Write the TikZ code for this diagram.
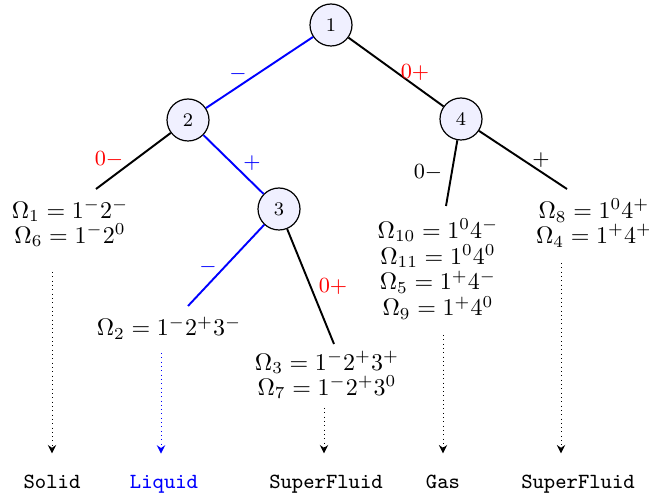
\documentclass[tikz,border=0pt]{standalone}
\usetikzlibrary{arrows.meta}
\begin{document}
\begin{tikzpicture}[x=0.4167pt,y=-0.4167pt,
  state/.style={circle,draw,line width=0.5pt,fill=blue!6,minimum size=17.5pt,inner sep=0pt,font=\footnotesize},
  edge/.style={line width=0.8pt},
  bedge/.style={line width=0.8pt,blue},
  lab/.style={font=\small,inner sep=1pt},
  omega/.style={align=center,inner sep=0pt},
  phase/.style={anchor=base,font=\small\ttfamily},
  darr/.style={dash pattern=on 0.4pt off 1.4pt,-{Stealth[length=3.5pt,width=3.5pt,inset=1.2pt]},shorten >=5.3pt}]
\useasboundingbox (0,0) rectangle (649,494);
% circle nodes
\node[state] (n1) at (331,25) {1};
\node[state] (n2) at (188,120) {2};
\node[state] (n3) at (279,209) {3};
\node[state] (n4) at (461,119) {4};
% leaf ends
\coordinate (e21) at (96,189);
\coordinate (e31) at (188,306);
\coordinate (e32) at (334,344);
\coordinate (e41) at (446,206);
\coordinate (e42) at (567,189);
% edges
\draw[bedge] (n1) -- (n2);
\draw[edge] (n1) -- (n4);
\draw[edge] (n2) -- (e21);
\draw[bedge] (n2) -- (n3);
\draw[bedge] (n3) -- (e31);
\draw[edge] (n3) -- (e32);
\draw[edge] (n4) -- (e41);
\draw[edge] (n4) -- (e42);
% edge labels
\node[lab,blue] (l12) at (238,74) {$-$};
\node[lab,red] (l14) at (415,73) {$0+$};
\node[lab,red] (l21) at (109,160) {$0-$};
\node[lab,blue] (l23) at (252,163) {$+$};
\node[lab,blue] (l31) at (208,267) {$-$};
\node[lab,red] (l32) at (333,287) {$0+$};
\node[lab] (l41) at (428,173) {$0-$};
\node[lab] (l42) at (541,160) {$+$};
% omega blocks
\node[omega] (o1) at (70,223) {$\Omega_1=1^-2^-$\\[-1.6pt]$\Omega_6=1^-2^0$};
\node[omega] (o2) at (169,328) {$\Omega_2=1^-2^+3^-$};
\node[omega] (o3) at (327,375) {$\Omega_3=1^-2^+3^+$\\[-1.6pt]$\Omega_7=1^-2^+3^0$};
\node[omega] (o4) at (438,269) {$\Omega_{10}=1^04^-$\\[-1.2pt]$\Omega_{11}=1^04^0$\\[-1.2pt]$\Omega_5=1^+4^-$\\[-1.2pt]$\Omega_9=1^+4^0$};
\node[omega] (o5) at (594,223) {$\Omega_8=1^04^+$\\[-1.6pt]$\Omega_4=1^+4^+$};
% phase labels
\node[phase] (p1) at (52,488) {Solid};
\node[phase,blue] (p2) at (164,488) {Liquid};
\node[phase] (p3) at (326,488) {SuperFluid};
\node[phase] (p4) at (443,488) {Gas};
\node[phase] (p5) at (578,488) {SuperFluid};
% dotted arrows
\coordinate (s1) at (52,272);
\coordinate (s2) at (161,353);
\coordinate (s3) at (324,408);
\coordinate (s4) at (443,335);
\coordinate (s5) at (561,263);
\draw[darr] (s1) -- (s1 |- p1.north);
\draw[darr,blue] (s2) -- (s2 |- p2.north);
\draw[darr] (s3) -- (s3 |- p3.north);
\draw[darr] (s4) -- (s4 |- p4.north);
\draw[darr] (s5) -- (s5 |- p5.north);
\end{tikzpicture}
\end{document}
